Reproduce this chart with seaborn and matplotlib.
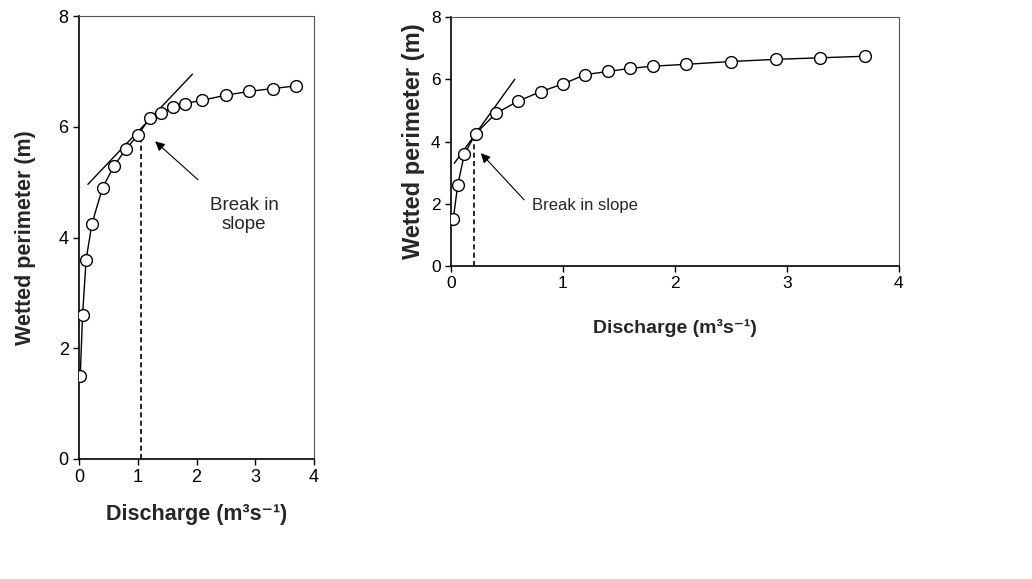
import matplotlib
matplotlib.use("Agg")
import matplotlib.pyplot as plt
import seaborn as sns
import pandas as pd

# Data
discharge = [0.02, 0.06, 0.12, 0.22, 0.4, 0.6, 0.8, 1.0, 1.2, 1.4, 1.6, 1.8, 2.1, 2.5, 2.9, 3.3, 3.7]
perimeter = [1.5, 2.6, 3.6, 4.25, 4.9, 5.3, 5.6, 5.85, 6.15, 6.25, 6.35, 6.42, 6.48, 6.57, 6.64, 6.69, 6.74]
x_ticks = [0, 1, 2, 3, 4]
y_ticks = [0, 2, 4, 6, 8]

# Break-in-slope annotations for the two panels
left_tangent_x = [0.15, 1.93]
left_tangent_y = [4.96, 6.95]
left_break_x = 1.05
left_break_y = 5.85
right_tangent_x = [0.03, 0.57]
right_tangent_y = [3.3, 6.0]
right_break_x = 0.21
right_break_y = 4.1

sns.set_style("ticks")
plt.rcParams['font.family'] = ['Liberation Sans', 'DejaVu Sans']

df = pd.DataFrame({"Discharge": discharge, "Perimeter": perimeter})

fig = plt.figure(figsize=(10.32, 5.79), dpi=100)
ax1 = fig.add_axes([0.0766, 0.2073, 0.2277, 0.765])
ax2 = fig.add_axes([0.437, 0.5406, 0.434, 0.430])

xlabel = "Discharge (m³s⁻¹)"

for ax, tsize in ((ax1, 13), (ax2, 12.5)):
    sns.lineplot(data=df, x="Discharge", y="Perimeter", ax=ax, color="black",
                 linewidth=1.0, marker="o", markersize=8.5, markerfacecolor="white",
                 markeredgecolor="black", markeredgewidth=1.0, zorder=3)
    ax.set_xlim(0, 4)
    ax.set_ylim(0, 8)
    ax.set_xticks(x_ticks)
    ax.set_yticks(y_ticks)
    ax.tick_params(axis="both", labelsize=tsize, direction="out", length=4, width=1, colors="black")
    for side in ("left", "bottom"):
        ax.spines[side].set_linewidth(1.2)
        ax.spines[side].set_color("black")
    for side in ("top", "right"):
        ax.spines[side].set_visible(True)
        ax.spines[side].set_linewidth(0.8)
        ax.spines[side].set_color("#555555")

ax1.set_ylabel("Wetted perimeter (m)", fontsize=15.5, fontweight="bold", labelpad=16)
ax1.set_xlabel(xlabel, fontsize=15.5, fontweight="bold", labelpad=13)
ax2.set_ylabel("Wetted perimeter (m)", fontsize=17, fontweight="bold", labelpad=4)
ax2.set_xlabel(xlabel, fontsize=14, fontweight="bold", labelpad=20)

# Left panel annotations
ax1.plot(left_tangent_x, left_tangent_y, color="black", linewidth=1.0, zorder=2)
ax1.plot([left_break_x, left_break_x], [0, left_break_y], color="black",
         linewidth=1.2, linestyle=(0, (3, 2)), zorder=2)
ax1.annotate("", xy=(1.26, 5.77), xytext=(2.06, 5.01),
             arrowprops=dict(arrowstyle="-|>", color="black", lw=0.8, mutation_scale=14))
ax1.text(2.81, 4.41, "Break in\nslope", ha="center", va="center", fontsize=13.5)

# Right panel annotations
ax2.plot(right_tangent_x, right_tangent_y, color="black", linewidth=1.0, zorder=2)
ax2.plot([right_break_x, right_break_x], [0, right_break_y], color="black",
         linewidth=1.2, linestyle=(0, (3, 2)), zorder=2)
ax2.annotate("", xy=(0.25, 3.69), xytext=(0.67, 2.06),
             arrowprops=dict(arrowstyle="-|>", color="black", lw=0.8, mutation_scale=14))
ax2.text(0.72, 1.95, "Break in slope", ha="left", va="center", fontsize=12)

fig.savefig("out.png", dpi=100)
